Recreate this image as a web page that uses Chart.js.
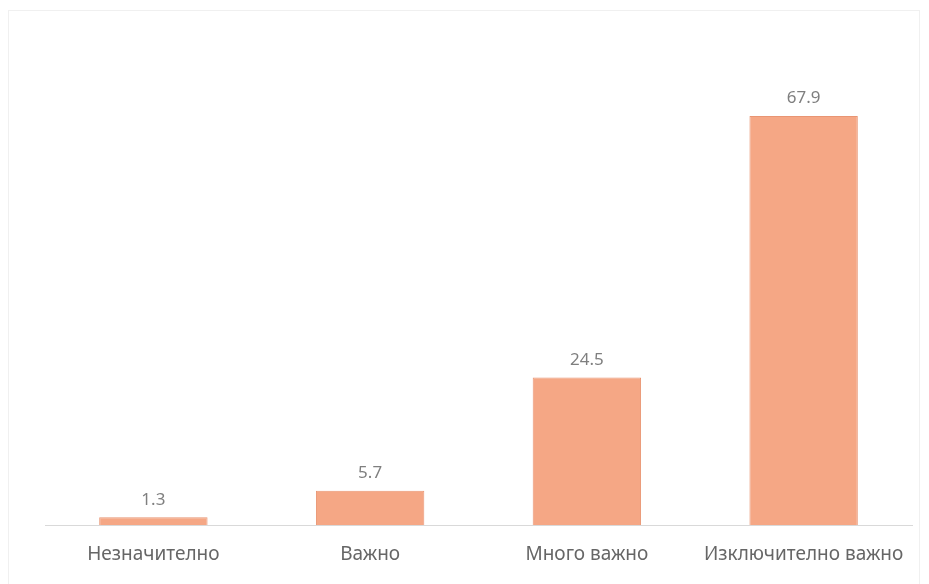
<!DOCTYPE html>
<html>
<head>
<meta charset="utf-8">
<script src="https://cdn.jsdelivr.net/npm/chart.js@4"></script>
<style>
  html, body { margin: 0; padding: 0; background: #fff; }
  #wrap { position: relative; width: 929px; height: 584px; }
  #frame { position: absolute; left: 8px; top: 10px; width: 912px; height: 580px; border: 1px solid #f0f0f0; box-sizing: border-box; }
</style>
</head>
<body>
<div id="wrap">
  <div id="frame"></div>
  <canvas id="myChart" width="929" height="584"></canvas>
</div>
<script>
  // категории и стойности
  let categories = ['Незначително', 'Важно', 'Много важно', 'Изключително важно'];
  let values = [1.3, 5.7, 24.5, 67.9];
  let valueLabels = ['1.3', '5.7', '24.5', '67.9'];

  const barLabels = {
    id: 'barLabels',
    afterDatasetsDraw(chart) {
      let ctx = chart.ctx;
      let meta = chart.getDatasetMeta(0);
      ctx.save();
      ctx.font = '17px "Noto Sans"';
      ctx.fillStyle = '#7f7f7f';
      ctx.textAlign = 'center';
      ctx.textBaseline = 'bottom';
      meta.data.forEach((bar, i) => {
        ctx.fillText(valueLabels[i], bar.x, bar.y - 9);
      });
      ctx.restore();
    }
  };

  let ctx = document.getElementById('myChart').getContext('2d');
  let chart = new Chart(ctx, {
    type: 'bar',
    data: {
      labels: categories,
      datasets: [{
        data: values,
        backgroundColor: '#f5a785',
        borderColor: '#e99573',
        borderWidth: 1,
        barPercentage: 0.5,
        categoryPercentage: 1.0
      }]
    },
    options: {
      responsive: false,
      animation: false,
      layout: { padding: { left: 45, right: 17, top: 43, bottom: 9 } },
      plugins: { legend: { display: false }, tooltip: { enabled: false } },
      scales: {
        x: {
          grid: { display: false, drawTicks: false },
          border: { color: '#d9d9d9', width: 1 },
          ticks: { color: '#666666', font: { family: 'Noto Sans', size: 19 }, padding: 18, maxRotation: 0 },
          afterFit(scale) { scale.height = 50; }
        },
        y: { display: false, min: 0, max: 80 }
      }
    },
    plugins: [barLabels]
  });
</script>
</body>
</html>
